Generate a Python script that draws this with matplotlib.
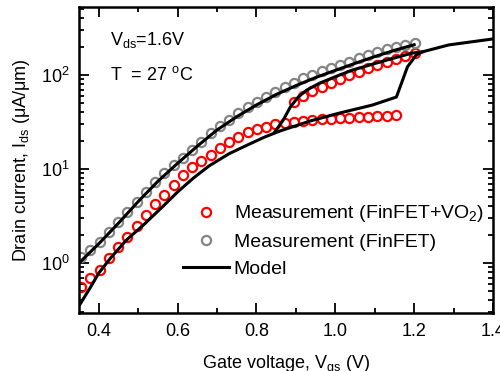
import matplotlib
matplotlib.use("Agg")
import matplotlib.pyplot as plt
from matplotlib.ticker import MultipleLocator, LogLocator, NullFormatter

plt.rcParams['font.family'] = ['Liberation Sans', 'DejaVu Sans']
plt.rcParams['mathtext.fontset'] = 'custom'
plt.rcParams['mathtext.rm'] = 'Liberation Sans'
plt.rcParams['mathtext.it'] = 'Liberation Sans:italic'
plt.rcParams['mathtext.bf'] = 'Liberation Sans:bold'

# ---- data ----
v_meas = [0.355, 0.378, 0.402, 0.425, 0.449, 0.472, 0.496, 0.519, 0.543, 0.566,
          0.590, 0.613, 0.637, 0.660, 0.684, 0.707, 0.731, 0.754, 0.778, 0.801,
          0.825, 0.848, 0.872, 0.895, 0.919, 0.942, 0.966, 0.989, 1.013, 1.036,
          1.060, 1.083, 1.107, 1.130, 1.154, 1.177, 1.201]

i_finfet = [1.15, 1.38, 1.68, 2.12, 2.72, 3.47, 4.5, 5.7, 7.2, 9.0,
            11.0, 13.2, 15.8, 19.5, 24.0, 28.5, 33.5, 39.5, 46.0, 52.0,
            59.0, 66.5, 74.5, 83.0, 92.0, 101, 110, 119, 129, 139,
            150, 162, 174, 187, 198, 208, 217]

v_vo2_low = v_meas[:35]
i_vo2_low = [0.556, 0.69, 0.84, 1.13, 1.48, 1.89, 2.48, 3.24, 4.24, 5.29,
             6.76, 8.63, 10.5, 12.2, 14.1, 16.7, 19.4, 21.9, 24.8, 26.7,
             28.0, 30.1, 30.9, 31.6, 32.4, 33.2, 33.9, 34.0, 34.9, 35.0,
             35.7, 35.8, 36.6, 36.7, 37.5]

v_vo2_high = v_meas[23:]
i_vo2_high = [51.6, 59.8, 67.6, 74.5, 82.2, 90.6, 100, 108, 119, 128,
              137, 148, 159, 171]

v_model_fin = [0.35, 0.40, 0.45, 0.50, 0.55, 0.60, 0.65, 0.70, 0.75, 0.80,
               0.85, 0.90, 0.95, 1.00, 1.05, 1.10, 1.15, 1.20]
i_model_fin = [1.0, 1.6, 2.65, 4.5, 7.4, 11.5, 17.5, 26, 36, 48,
               62, 77, 94, 112, 133, 157, 183, 210]

v_model_up = [0.35, 0.38, 0.40, 0.43, 0.47, 0.516, 0.56, 0.60, 0.64, 0.68,
              0.73, 0.777, 0.82, 0.86, 0.936, 1.011, 1.094, 1.155, 1.183,
              1.205, 1.22, 1.288, 1.40]
i_model_up = [0.35, 0.56, 0.78, 1.13, 1.75, 2.6, 3.9, 5.7, 8.0, 10.8,
              14.5, 18.0, 21.8, 25.4, 32.4, 39.4, 47.9, 58.3, 122,
              163, 176, 209, 242]

v_model_down = [1.22, 1.195, 1.13, 1.044, 1.011, 0.961, 0.928, 0.906, 0.886,
                0.868, 0.845]
i_model_down = [176, 171, 144, 113, 100, 82.2, 69.3, 58.3, 45.7, 33.2, 24.3]

x_ticks = [0.4, 0.6, 0.8, 1.0, 1.2, 1.4]

# ---- figure ----
fig = plt.figure(figsize=(5.0, 3.71), dpi=100)
ax = fig.add_axes([79/500, 1-313/371, (493-79)/500, (313-7)/371])

mk = dict(linestyle='none', marker='o', markersize=6.6, markerfacecolor='none',
          markeredgewidth=1.6)
ax.plot(v_vo2_low, i_vo2_low, color='#ff0000',
        label='Measurement (FinFET+VO$_\\mathrm{2}$)', **mk)
ax.plot(v_vo2_high, i_vo2_high, color='#ff0000', **mk)
ax.plot(v_meas, i_finfet, color='#858585', label='Measurement (FinFET)', **mk)

lw = 2.2
ax.plot(v_model_fin, i_model_fin, color='black', lw=lw, label='Model')
ax.plot(v_model_up, i_model_up, color='black', lw=lw)
ax.plot(v_model_down, i_model_down, color='black', lw=lw)

ax.set_yscale('log')
ax.set_xlim(0.35, 1.4)
ax.set_ylim(0.294, 529)
ax.set_xticks(x_ticks)
ax.set_xticklabels(['%.1f' % t for t in x_ticks])
ax.xaxis.set_minor_locator(MultipleLocator(0.1))
ax.yaxis.set_major_locator(LogLocator(base=10))
ax.yaxis.set_minor_locator(LogLocator(base=10, subs=range(2, 10)))
ax.yaxis.set_minor_formatter(NullFormatter())

ax.tick_params(which='both', direction='in', top=True, right=True, labelsize=13,
               width=1.3, colors='black')
ax.tick_params(which='major', length=7, pad=7)
ax.tick_params(which='minor', length=3.5)
for s in ax.spines.values():
    s.set_linewidth(1.8)

ax.set_xlabel('Gate voltage, V$_\\mathrm{gs}$ (V)', fontsize=13, labelpad=10)
ax.set_ylabel('Drain current, I$_\\mathrm{ds}$ (\u03bcA/\u03bcm)', fontsize=13, labelpad=6)

ax.text(0.075, 0.875, 'V$_\\mathrm{ds}$=1.6V', transform=ax.transAxes, fontsize=13)
ax.text(0.075, 0.76, 'T  = 27 $^\\mathrm{o}$C', transform=ax.transAxes, fontsize=13)

ax.legend(loc='upper left', bbox_to_anchor=(0.25, 0.358), frameon=False, numpoints=1,
          fontsize=14, handlelength=2.37, handletextpad=0.26, labelspacing=0.46,
          borderpad=0, borderaxespad=0)

fig.savefig('out.png', dpi=100)
